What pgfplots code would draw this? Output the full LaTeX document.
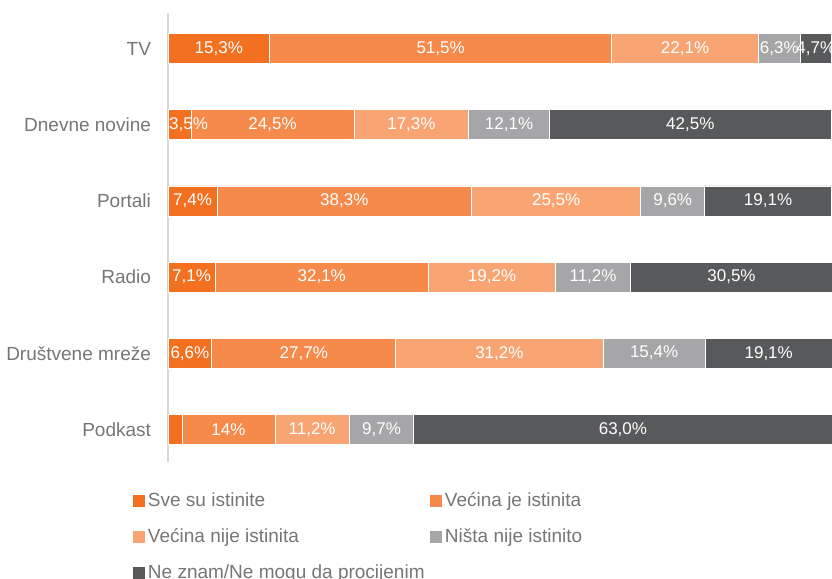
\documentclass[border=0pt]{standalone}
\usepackage{fontspec}
\setmainfont{Liberation Sans}
\usepackage{pgfplots}
\pgfplotsset{compat=1.18}
\definecolor{c1}{HTML}{F37021}
\definecolor{c2}{HTML}{F58A4B}
\definecolor{c3}{HTML}{F8A573}
\definecolor{c4}{HTML}{A6A6A8}
\definecolor{c5}{HTML}{58595B}
\definecolor{txt}{HTML}{767676}
\begin{document}
\begin{tikzpicture}
\useasboundingbox (-84pt,-58.5pt) rectangle (332pt,231pt);
\begin{axis}[
    xbar stacked,
    scale only axis,
    width=332.4pt, height=224.5pt,
    xmin=0, xmax=100.1,
    ymin=-0.47, ymax=5.43,
    y dir=reverse,
    bar width=15pt,
    axis x line=none,
    axis y line*=left,
    y axis line style={draw=black!15, line width=0.8pt},
    ytick={0,...,5},
    yticklabels={TV, Dnevne novine, Portali, Radio, Društvene mreže, Podkast},
    major tick length=0pt,
    yticklabel style={font=\fontsize{9.5}{11}\selectfont, text=txt, xshift=-5pt},
    point meta=explicit symbolic,
    nodes near coords,
    every node near coord/.append style={font=\fontsize{8.5}{10}\selectfont, text=white,
        anchor=center},
    legend image code/.code={\fill[#1,draw=none] (0pt,-3pt) rectangle (6pt,3pt);},
    legend columns=2,
    legend cell align=left,
    legend style={draw=none, fill=none, inner sep=0pt, outer sep=0pt,
        at={(axis description cs:-0.0527,-0.0668)}, anchor=north west,
        font=\fontsize{9.5}{11}\selectfont, text=txt,
        nodes={inner sep=0pt, text height=7pt, text depth=2pt},
        row sep=9pt,
        /tikz/every odd column/.style={column sep=1.5pt},
        /tikz/every even column/.style={column sep=0pt}},
]
\addplot[fill=c1, draw=white, line width=0.4pt] coordinates {
    (15.3,0) [{15,3\%}] (3.5,1) [{\kern9pt 3,5\%}] (7.4,2) [{7,4\%}]
    (7.1,3) [{7,1\%}] (6.6,4) [{6,6\%}] (2.1,5) [{}] };
\addlegendentry{\makebox[141pt][l]{Sve su istinite}}
\addplot[fill=c2, draw=white, line width=0.4pt] coordinates {
    (51.5,0) [{51,5\%}] (24.5,1) [{24,5\%}] (38.3,2) [{38,3\%}]
    (32.1,3) [{32,1\%}] (27.7,4) [{27,7\%}] (14,5) [{14\%}] };
\addlegendentry{Većina je istinita}
\addplot[fill=c3, draw=white, line width=0.4pt] coordinates {
    (22.1,0) [{22,1\%}] (17.3,1) [{17,3\%}] (25.5,2) [{25,5\%}]
    (19.2,3) [{19,2\%}] (31.2,4) [{31,2\%}] (11.2,5) [{11,2\%}] };
\addlegendentry{\makebox[141pt][l]{Većina nije istinita}}
\addplot[fill=c4, draw=white, line width=0.4pt] coordinates {
    (6.3,0) [{6,3\%}] (12.1,1) [{12,1\%}] (9.6,2) [{9,6\%}]
    (11.2,3) [{11,2\%}] (15.4,4) [{15,4\%}] (9.7,5) [{9,7\%}] };
\addlegendentry{Ništa nije istinito}
\addplot[fill=c5, draw=white, line width=0.4pt] coordinates {
    (4.7,0) [{4,7\%}] (42.5,1) [{42,5\%}] (19.1,2) [{19,1\%}]
    (30.5,3) [{30,5\%}] (19.1,4) [{19,1\%}] (63.0,5) [{63,0\%}] };
\addlegendentry{\makebox[141pt][l]{Ne znam/Ne mogu da procijenim}}
\end{axis}
\end{tikzpicture}
\end{document}
